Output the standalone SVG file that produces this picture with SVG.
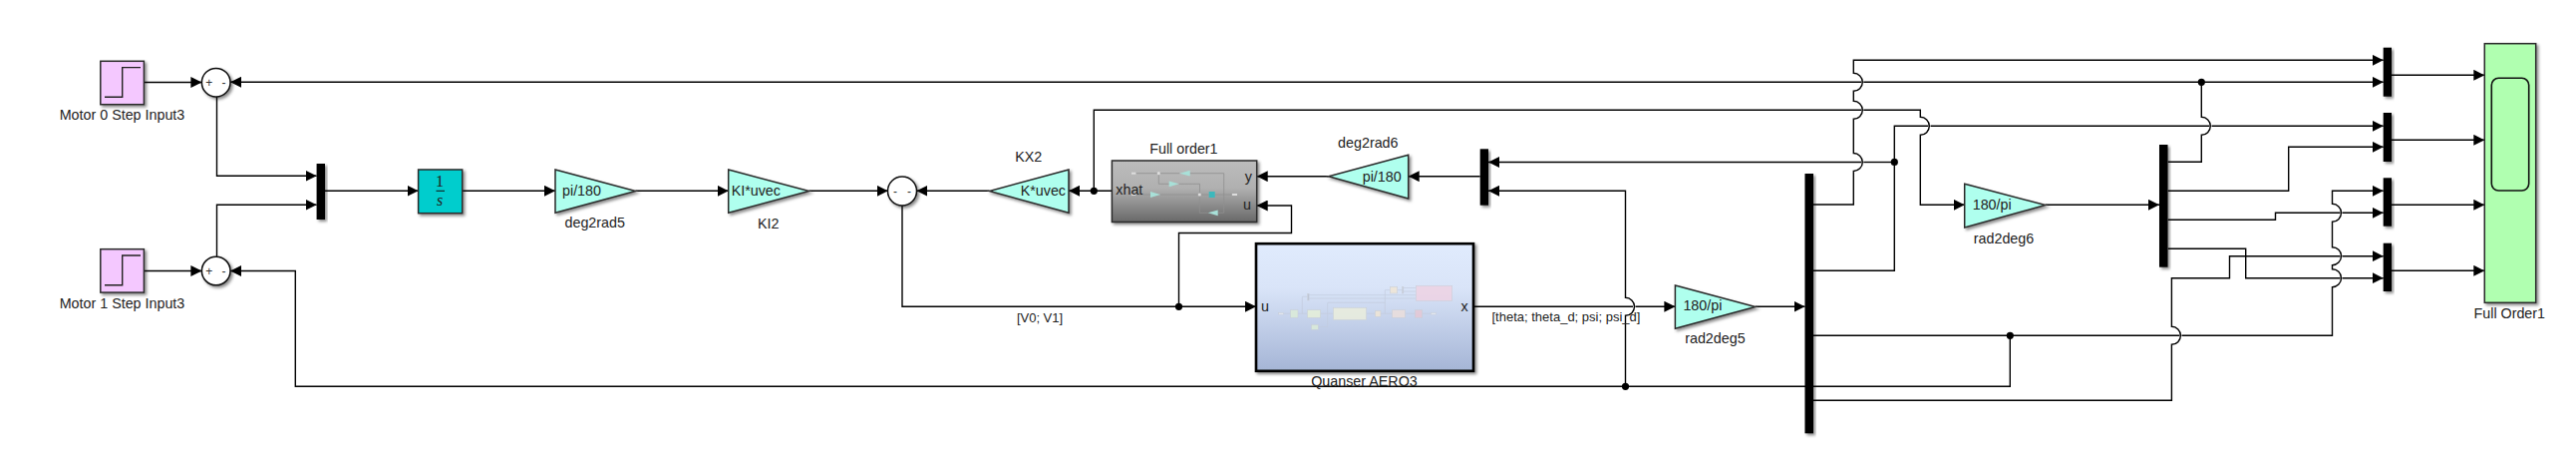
<svg xmlns="http://www.w3.org/2000/svg" width="2584" height="466" viewBox="0 0 2584 466">
<style>
text{font-family:"Liberation Sans",Arial,sans-serif;font-size:14.3px;fill:#222}
.c{text-anchor:middle}.r{text-anchor:end}
text.sm{font-size:13px}
text.sg{font-size:12px;text-anchor:middle;fill:#333}
.b{stroke:#2a2a2a;stroke-width:1.5;filter:url(#sh)}
.step{fill:#f4c8ff}.gain{fill:#afffee}
.mux{fill:#000;filter:url(#sh)}
.sum{fill:#fff;stroke:#111;stroke-width:1.5;filter:url(#sh)}
.gl{fill:none;stroke:#222;stroke-width:1.4}
#conn path{fill:none;stroke:#000;stroke-width:1.4}
#conn path.a{marker-end:url(#ah)}
#conn circle{fill:#000}
.m1 path.w{fill:none;stroke:#8f8f8f;stroke-width:.8}
.m1 path.t{fill:#a8e0d8;stroke:none}
.m2{opacity:.85}
.m2 path{fill:none;stroke:#c3cbdd;stroke-width:.8}
.m2 rect{stroke:#c9cdd6;stroke-width:.6}
</style>
<defs>
<filter id="sh" x="-20%" y="-20%" width="150%" height="150%"><feDropShadow dx="2" dy="2" stdDeviation="1.6" flood-color="#000" flood-opacity=".45"/></filter>
<marker id="ah" markerUnits="userSpaceOnUse" markerWidth="11" markerHeight="11" refX="11" refY="5.5" orient="auto"><path d="M0,0L11,5.5L0,11z" fill="#000"/></marker>
<linearGradient id="gq" x1="0" y1="0" x2="0" y2="1"><stop offset="0" stop-color="#e0ebfd"/><stop offset=".35" stop-color="#d9e4f8"/><stop offset="1" stop-color="#a5b5d6"/></linearGradient>
<linearGradient id="gf" x1="0" y1="0" x2="0" y2="1"><stop offset="0" stop-color="#bcbcbc"/><stop offset=".45" stop-color="#b0b0b0"/><stop offset="1" stop-color="#686868"/></linearGradient>
</defs>

<g id="conn">
<path class="a" d="M144.5,82.5H202.4"/>
<path d="M2208.3,82.3H1869.3"/>
<path class="a" d="M1867.3,82.3H231"/>
<path class="a" d="M2208.3,82.3H2390.7"/>
<path d="M2174.7,162.3H2208.3V135.3A9,9 0 0 0 2208.3,117.3V82.3"/>
<path class="a" d="M217.5,97V176.3H317.6"/>
<path class="a" d="M217.5,257.2V205.3H317.6"/>
<path class="a" d="M326,191.3H419.6"/>
<path class="a" d="M463.7,191.3H557"/>
<path class="a" d="M637.5,191.3H730.7"/>
<path class="a" d="M811.5,191.3H890.7"/>
<path class="a" d="M992.5,191.3H919.4"/>
<path class="a" d="M1115.4,191.3H1072"/>
<path class="a" d="M905,206V307.3H1260"/>
<path class="a" d="M1182.5,307.3V233.5H1295.5V206H1260.7"/>
<path d="M1478,307.3H1638"/>
<path class="a" d="M1640.5,307.3H1680.4"/>
<path class="a" d="M1760.8,307.3H1810.5"/>
<path class="a" d="M1630.5,387.3V316.3A9,9 0 0 0 1630.5,298.3V191.3H1493"/>
<path d="M1900.3,162.5H1869.3"/>
<path class="a" d="M1867.3,162.5H1493"/>
<path class="a" d="M1484.7,176.7H1412.7"/>
<path class="a" d="M1332.7,176.7H1260.7"/>
<path class="a" d="M1819,205H1859.3V171.5A9,9 0 0 0 1859.3,153.5V119.3A9,9 0 0 0 1859.3,101.3V91.3A9,9 0 0 0 1859.3,73.3V60.3H2390.7"/>
<path d="M1097.3,191.3V110.3H1867.3"/>
<path class="a" d="M1869.3,110.3H1926.3V117.3A9,9 0 0 1 1926.3,135.3V205.3H1970.7"/>
<path d="M1819,271.3H1900.3V126.3H1934.3"/>
<path d="M1936.5,126.3H2216.3"/>
<path class="a" d="M2218.5,126.3H2390.7"/>
<path class="a" d="M2051.7,205.3H2166"/>
<path class="a" d="M2174.7,191.3H2295.7V147.3H2390.7"/>
<path d="M2174.7,220.3H2282.5V213.3H2347.5"/>
<path class="a" d="M2349.5,213.3H2390.7"/>
<path d="M1819,336.3H2186.4"/>
<path class="a" d="M2188.5,336.3H2339.5V287.7A9,9 0 0 0 2339.5,269.7V265.7A9,9 0 0 0 2339.5,247.7V222.3A9,9 0 0 0 2339.5,204.3V191.3H2390.7"/>
<path d="M1819,401.3H2178.4V345.3A9,9 0 0 0 2178.4,327.3V278.7H2236.5V256.7H2347.5"/>
<path class="a" d="M2349.5,256.7H2390.7"/>
<path d="M2174.7,249.3H2252.7V278.7H2347.5"/>
<path class="a" d="M2349.5,278.7H2390.7"/>
<path class="a" d="M2016.3,336.3V387.3H296.3V271.5H231"/>
<path class="a" d="M144.3,271.5H202.4"/>
<path class="a" d="M2399,75.3H2492.3"/>
<path class="a" d="M2399,140.3H2492.3"/>
<path class="a" d="M2399,205.3H2492.3"/>
<path class="a" d="M2399,271.3H2492.3"/>
<circle cx="1097.3" cy="191.3" r="3.6"/>
<circle cx="1182.5" cy="307.3" r="3.6"/>
<circle cx="1630.5" cy="387.3" r="3.6"/>
<circle cx="2016.3" cy="336.3" r="3.6"/>
<circle cx="1900.3" cy="162.4" r="3.6"/>
<circle cx="2208.3" cy="82.3" r="3.6"/>
</g>

<g id="step0">
<rect class="b step" x="100.8" y="61.3" width="43.6" height="43.4"/>
<path class="gl" d="M105,97.3H122.7V67.6H141"/>
<text class="c" x="122.5" y="119.5">Motor 0 Step Input3</text>
</g>
<g id="step1">
<rect class="b step" x="100.8" y="249.7" width="43.6" height="43.4"/>
<path class="gl" d="M105,285.7H122.7V256H141"/>
<text class="c" x="122.5" y="309">Motor 1 Step Input3</text>
</g>
<g id="sum0">
<circle class="sum" cx="216.7" cy="82.7" r="14.3"/>
<text class="sg" x="209.8" y="87">+</text><text class="sg" x="224.5" y="87">-</text>
</g>
<g id="sum1">
<circle class="sum" cx="216.7" cy="271.5" r="14.3"/>
<text class="sg" x="209.8" y="276">+</text><text class="sg" x="224.5" y="276">-</text>
</g>
<g id="mux1"><rect class="mux" x="317.6" y="164" width="8.4" height="56"/></g>
<g id="integrator">
<rect class="b" fill="#00cdcd" x="419.6" y="170" width="44.1" height="43.7"/>
<text class="c" x="441" y="186.7" style="font-family:'Liberation Serif',serif;font-size:16px">1</text>
<path d="M437.5,191.3H446" stroke="#111" stroke-width="1"/>
<text class="c" x="441" y="205.7" style="font-family:'Liberation Serif',serif;font-size:16px;font-style:italic">s</text>
</g>
<g id="deg2rad5">
<path class="b gain" d="M557,170L637.5,191.5L557,213.3z"/>
<text x="564" y="195.7">pi/180</text>
<text class="c" x="596.7" y="228">deg2rad5</text>
</g>
<g id="KI2">
<path class="b gain" d="M730.7,170L811.5,191.5L730.7,213.3z"/>
<text x="733.7" y="196">KI*uvec</text>
<text class="c" x="770.7" y="229">KI2</text>
</g>
<g id="sum2">
<circle class="sum" cx="905" cy="191.5" r="14.5"/>
<text class="sg" x="898" y="195.5">-</text><text class="sg" x="912" y="195.5">-</text>
</g>
<g id="KX2">
<path class="b gain" d="M1072,170L992.5,191.5L1072,213.3z"/>
<text class="r" x="1069" y="196">K*uvec</text>
<text class="c" x="1031.7" y="162">KX2</text>
</g>
<g id="fullorder">
<rect class="b" fill="url(#gf)" x="1115.4" y="161" width="145.3" height="61.5"/>
<g class="m1">
<path class="w" d="M1139,173.7H1183.3M1193.7,173.7H1227.7V213.3H1221.7M1211.7,213.3H1203.3V195M1162.3,173.7V184.3H1172.7M1182.7,184.3H1203.5V195M1139,195H1154M1164,195H1212.7M1218.7,195H1235"/>
<rect x="1135" y="172.7" width="4.5" height="2" fill="#ddd"/>
<rect x="1135" y="194" width="4.5" height="2" fill="#ddd"/>
<rect x="1236" y="194" width="5" height="2" fill="#ddd"/>
<circle cx="1162.3" cy="173.7" r="1.6" fill="#ddd"/>
<circle cx="1203.3" cy="195" r="1.6" fill="#ddd"/>
<path class="t" d="M1193.7,170.8V176.6L1183.3,173.7z"/>
<path class="t" d="M1172.7,181.4V187.2L1182.7,184.3z"/>
<path class="t" d="M1154,192.1V197.9L1164,195z"/>
<path class="t" d="M1221.7,210.4V216.2L1211.7,213.3z"/>
<rect x="1212.7" y="192" width="6" height="6" fill="#3cb8bc"/>
</g>
<text x="1119.3" y="195">xhat</text>
<text class="r" x="1256" y="181.5">y</text>
<text class="r" x="1255" y="210">u</text>
<text class="c" x="1187.4" y="154">Full order1</text>
</g>
<g id="deg2rad6">
<path class="b gain" d="M1412.7,155.3L1332.7,176.8L1412.7,199z"/>
<text class="r" x="1405.7" y="181.5">pi/180</text>
<text class="c" x="1372.3" y="148">deg2rad6</text>
</g>
<g id="muxE"><rect class="mux" x="1484.7" y="149.3" width="8.3" height="56.4"/></g>
<g id="quanser">
<rect fill="url(#gq)" stroke="#000" stroke-width="2.6" style="filter:url(#sh)" x="1260" y="244.2" width="218" height="127.6"/>
<g class="m2">
<path d="M1287,314.3H1294.3M1302,314.3H1311.3M1324.7,314.3H1337.3M1370.7,314.3H1379.3M1385,314.3H1396.3M1409.7,314.3H1419.3M1426.7,314.3H1435.3M1306.3,314.3V297.3H1311.7M1313,295.7H1420.3M1313,299H1420.3M1389.3,314.3V290.7H1394.3M1401.7,290.7H1407M1408,288.5H1420.3M1408,292H1420.3M1322.3,327.7H1331.7V303.3H1389.3"/>
<rect x="1282.7" y="313.5" width="4.6" height="1.6" fill="#f0f2f6"/>
<rect x="1435.3" y="313.5" width="5" height="1.6" fill="#f0f2f6"/>
<rect x="1294.3" y="310.7" width="7.7" height="7.6" fill="#dcecd8"/>
<rect x="1311.3" y="310.7" width="13.4" height="7.6" fill="#e6f0d8"/>
<rect x="1337.3" y="308.3" width="33.4" height="12.4" fill="#ebeedd"/>
<rect x="1379.3" y="311.3" width="5.7" height="6" fill="#f0e6d5"/>
<rect x="1396.3" y="310.7" width="13.4" height="7.6" fill="#ecdfdc"/>
<rect x="1419.3" y="310.7" width="7.4" height="7.6" fill="#e6c8d5"/>
<rect x="1315.3" y="325.3" width="7" height="5" fill="#dcecd8"/>
<rect x="1394.3" y="287.3" width="7.4" height="6.7" fill="#f0e6d5"/>
<rect x="1420.3" y="286.3" width="36.4" height="15.4" fill="#efd3e4"/>
<rect x="1311.7" y="294.3" width="1.4" height="6.7" fill="#b8c0d0"/>
<rect x="1406.6" y="287.3" width="1.2" height="6.7" fill="#b8c0d0"/>
</g>
<text x="1265" y="311.5">u</text>
<text class="r" x="1472.7" y="311.5">x</text>
<text class="c" x="1368.5" y="387">Quanser AERO3</text>
</g>
<g id="rad2deg5">
<path class="b gain" d="M1680.4,286L1760.8,307.5L1680.4,329.3z"/>
<text x="1688.4" y="311">180/pi</text>
<text class="c" x="1720.4" y="344">rad2deg5</text>
</g>
<g id="muxBig"><rect class="mux" x="1810.5" y="174" width="8.5" height="260.3"/></g>
<g id="rad2deg6">
<path class="b gain" d="M1970.7,184.3L2051.7,205.5L1970.7,228z"/>
<text x="1978.7" y="210">180/pi</text>
<text class="c" x="2010" y="243.5">rad2deg6</text>
</g>
<g id="mux2"><rect class="mux" x="2166" y="145" width="8.5" height="122.7"/></g>
<g id="muxA"><rect class="mux" x="2390.7" y="47.7" width="8.3" height="49"/></g>
<g id="muxB"><rect class="mux" x="2390.7" y="113" width="8.3" height="49"/></g>
<g id="muxC"><rect class="mux" x="2390.7" y="178.3" width="8.3" height="48.4"/></g>
<g id="muxD"><rect class="mux" x="2390.7" y="243.7" width="8.3" height="48.3"/></g>
<g id="scope">
<rect class="b" fill="#b0ffb0" x="2492.3" y="43.7" width="51.4" height="259.6"/>
<rect x="2499.3" y="78.3" width="37.4" height="112.7" rx="7" fill="none" stroke="#111" stroke-width="1.6"/>
<text class="c" x="2517.3" y="318.5">Full Order1</text>
</g>
<g id="edgelabels">
<text class="c sm" x="1043" y="322.7">[V0; V1]</text>
<text class="sm" x="1496.5" y="321.7">[theta; theta_d; psi; psi_d]</text>
</g>
</svg>
